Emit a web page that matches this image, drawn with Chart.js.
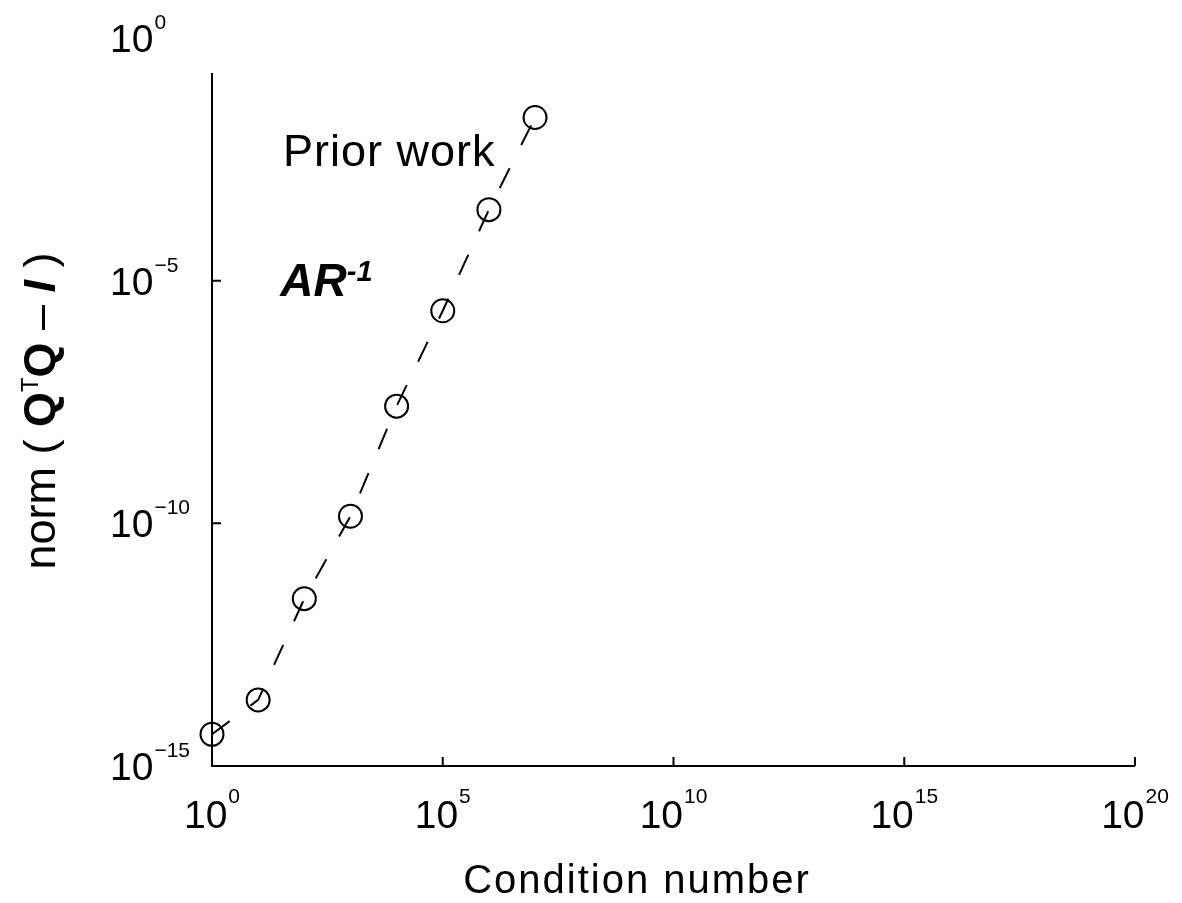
<!DOCTYPE html>
<html>
<head>
<meta charset="utf-8">
<title>Orthogonality error vs condition number</title>
<script src="https://cdn.jsdelivr.net/npm/chart.js@4/dist/chart.umd.min.js"></script>
<style>
    html, body { margin: 0; padding: 0; background: #fff; }
    #wrap { width: 1182px; height: 903px; position: relative; }
</style>
</head>
<body>
<div id="wrap"><canvas id="chart-orth"></canvas></div>
<script>

// condition numbers tested and the resulting norm(Q'Q - I)
var conditionNumbers = [1e0, 1e1, 1e2, 1e3, 1e4, 1e5, 1e6, 1e7];
var orthErrors = [4.5e-15, 2.3e-14, 2.8e-12, 1.4e-10, 2.6e-8, 2.4e-6, 2.9e-4, 2.3e-2];

// decade exponents that get a label
var xTickExponents = [0, 5, 10, 15, 20];
var yTickExponents = [0, -5, -10, -15];

// the y axis line stops short of the top label
var yAxisLineTop = 0.19;

var FONT = '"Liberation Sans", Arial, Helvetica, sans-serif';

// draws a run of text pieces with their own font and vertical offset
function drawRich(ctx, pieces, x, y, align) {
    var total = 0;
    pieces.forEach(function (p) {
        ctx.font = p.font;
        p.w = ctx.measureText(p.text).width + (p.gap || 0);
        total += p.w;
    });
    var cx = x;
    if (align === 'center') cx = x - total / 2;
    if (align === 'right') cx = x - total;
    ctx.textAlign = 'left';
    ctx.textBaseline = 'alphabetic';
    pieces.forEach(function (p) {
        ctx.font = p.font;
        ctx.fillText(p.text, cx, y + (p.dy || 0));
        cx += p.w;
    });
}

function expText(e) {
    return e < 0 ? '\u2212' + Math.abs(e) : String(e);
}

var axesPlugin = {
    id: 'matlabAxes',
    afterDraw: function (chart) {
        var ctx = chart.ctx;
        var xs = chart.scales.x;
        var ys = chart.scales.y;
        var left = xs.getPixelForValue(1);
        var right = xs.getPixelForValue(1e20);
        var bottom = ys.getPixelForValue(1e-15);
        var top = ys.getPixelForValue(yAxisLineTop);

        ctx.save();
        ctx.strokeStyle = '#000';
        ctx.fillStyle = '#000';
        ctx.lineWidth = 2;
        ctx.lineCap = 'butt';

        // axis lines
        ctx.beginPath();
        ctx.moveTo(left, top);
        ctx.lineTo(left, bottom);
        ctx.lineTo(right, bottom);
        ctx.stroke();

        // inward tick marks
        var tickLen = 9;
        ctx.beginPath();
        xTickExponents.forEach(function (e) {
            var px = xs.getPixelForValue(Math.pow(10, e));
            if (px > left + 1) {
                ctx.moveTo(px, bottom);
                ctx.lineTo(px, bottom - tickLen);
            }
        });
        yTickExponents.forEach(function (e) {
            var py = ys.getPixelForValue(Math.pow(10, e));
            if (py > top && py < bottom - 1) {
                ctx.moveTo(left, py);
                ctx.lineTo(left + tickLen, py);
            }
        });
        ctx.stroke();

        var big = '39px ' + FONT;
        var small = '21px ' + FONT;

        // x tick labels, centred under each tick
        xTickExponents.forEach(function (e) {
            var px = xs.getPixelForValue(Math.pow(10, e));
            drawRich(ctx, [
                { text: '10', font: big, gap: 1 },
                { text: expText(e), font: small, dy: -25 }
            ], px, bottom + 62, 'center');
        });

        // y tick labels, left aligned in the margin
        yTickExponents.forEach(function (e) {
            var py = ys.getPixelForValue(Math.pow(10, e));
            drawRich(ctx, [
                { text: '10', font: big, gap: 1 },
                { text: expText(e), font: small, dy: -23 }
            ], left - 102, py + 14, 'left');
        });

        // axis titles
        ctx.font = '40px ' + FONT;
        ctx.letterSpacing = '2px';
        ctx.textAlign = 'center';
        ctx.textBaseline = 'alphabetic';
        ctx.fillText('Condition number', 637, 893);
        ctx.letterSpacing = '0px';

        ctx.save();
        ctx.translate(55, 411);
        ctx.rotate(-Math.PI / 2);
        var yt = '45px ' + FONT;
        drawRich(ctx, [
            { text: 'norm ( ', font: yt },
            { text: 'Q', font: 'bold 45px ' + FONT },
            { text: 'T', font: '24px ' + FONT, dy: -17 },
            { text: 'Q', font: 'bold 45px ' + FONT },
            { text: ' \u2013 ', font: yt },
            { text: 'I', font: 'italic bold 45px ' + FONT },
            { text: ' )', font: yt }
        ], 0, 0, 'center');
        ctx.restore();

        // series annotations
        var ax = xs.getPixelForValue(Math.pow(10, 1.54));
        var ay = ys.getPixelForValue(Math.pow(10, -2.63));
        ctx.letterSpacing = '1px';
        drawRich(ctx, [{ text: 'Prior work', font: '45px ' + FONT }], ax, ay, 'left');
        ctx.letterSpacing = '0px';

        var bx = xs.getPixelForValue(Math.pow(10, 1.48));
        var by = ys.getPixelForValue(Math.pow(10, -5.31));
        drawRich(ctx, [
            { text: 'AR', font: 'italic bold 46px ' + FONT },
            { text: '-1', font: 'italic bold 29px ' + FONT, dy: -15 }
        ], bx, by, 'left');

        ctx.restore();
    }
};

var points = conditionNumbers.map(function (c, i) {
    return { x: c, y: orthErrors[i] };
});

new Chart('chart-orth', {
    type: 'line',
    data: {
        datasets: [{
            data: points,
            borderColor: '#000',
            borderWidth: 2,
            borderDash: [22, 26],
            fill: false,
            tension: 0,
            pointRadius: 11.5,
            pointBorderWidth: 2,
            pointBorderColor: '#000',
            pointBackgroundColor: 'rgba(0,0,0,0)',
            clip: false
        }]
    },
    options: {
        responsive: true,
        maintainAspectRatio: false,
        animation: false,
        layout: {
            autoPadding: false,
            padding: { left: 212, right: 47, top: 38, bottom: 137 }
        },
        plugins: {
            legend: { display: false },
            tooltip: { enabled: false }
        },
        scales: {
            x: {
                type: 'logarithmic',
                min: 1,
                max: 1e20,
                grid: { display: false, drawTicks: false, tickLength: 0 },
                border: { display: false },
                ticks: { display: false }
            },
            y: {
                type: 'logarithmic',
                min: 1e-15,
                max: 1,
                grid: { display: false, drawTicks: false, tickLength: 0 },
                border: { display: false },
                ticks: { display: false }
            }
        }
    },
    plugins: [axesPlugin]
});

</script>
</body>
</html>
